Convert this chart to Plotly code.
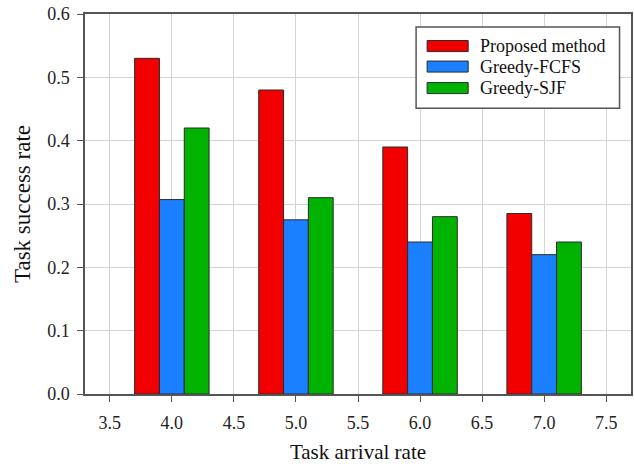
import plotly.graph_objects as go

arrival_rates = [4.0, 5.0, 6.0, 7.0]
proposed = [0.53, 0.48, 0.39, 0.285]
greedy_fcfs = [0.307, 0.275, 0.24, 0.22]
greedy_sjf = [0.42, 0.31, 0.28, 0.24]
series_names = ["Proposed method", "Greedy-FCFS", "Greedy-SJF"]
colors = ["#f20000", "#1a80ff", "#00b300"]

FONT = "Liberation Serif, Times New Roman, serif"

fig = go.Figure()
offsets = [-0.3, -0.1, 0.1]
for name, vals, col, off in zip(series_names, [proposed, greedy_fcfs, greedy_sjf], colors, offsets):
    fig.add_trace(go.Bar(
        x=arrival_rates, y=vals, name=name, width=0.2, offset=off,
        marker=dict(color=col, line=dict(color="#2a2a2a", width=1)),
        showlegend=False,
    ))

# custom legend (box, swatches, text)
fig.add_shape(type="rect", xref="paper", yref="paper", x0=0.6064, x1=0.979, y0=0.7523, y1=0.9658,
              fillcolor="white", line=dict(color="#555555", width=1.5), layer="above")
row_py = [46, 66.5, 88]
for name, col, py in zip(series_names, colors, row_py):
    yc = (393.5 - py) / 379.5
    fig.add_shape(type="rect", xref="paper", yref="paper", x0=0.6266, x1=0.7018,
                  y0=yc - 0.0145, y1=yc + 0.0145, fillcolor=col,
                  line=dict(color="#2a2a2a", width=1), layer="above")
    fig.add_annotation(xref="paper", yref="paper", x=0.7202, y=yc, text=name,
                       xanchor="left", yanchor="middle", showarrow=False,
                       font=dict(family=FONT, size=18, color="#111111"))

fig.update_layout(
    width=634, height=464,
    margin=dict(l=85, r=3, t=14, b=70),
    paper_bgcolor="white", plot_bgcolor="white",
    barmode="overlay",
    font=dict(family=FONT, size=18, color="#222222"),
    xaxis=dict(
        range=[3.3, 7.7], tick0=3.5, dtick=0.5, tickformat=".1f",
        showgrid=True, gridcolor="#d4d4d4", gridwidth=1,
        showline=True, linecolor="#555555", linewidth=1.5, mirror=True,
        ticks="outside", ticklen=6, tickcolor="#555555", tickwidth=1.2,
        zeroline=False, ticklabelstandoff=6, automargin=False,
        title=dict(text="Task arrival rate", font=dict(family=FONT, size=21, color="#111111"), standoff=16),
        tickfont=dict(family=FONT, size=18, color="#222222"),
    ),
    yaxis=dict(
        range=[0, 0.6], tick0=0, dtick=0.1, tickformat=".1f",
        showgrid=True, gridcolor="#d4d4d4", gridwidth=1,
        showline=True, linecolor="#555555", linewidth=1.5, mirror=True,
        ticks="outside", ticklen=6, tickcolor="#555555", tickwidth=1.2,
        zeroline=False, ticklabelstandoff=4, automargin=False,
        title=dict(text="Task success rate", font=dict(family=FONT, size=23, color="#111111"), standoff=10),
        tickfont=dict(family=FONT, size=18, color="#222222"),
    ),
)

fig.write_html("out.html")
